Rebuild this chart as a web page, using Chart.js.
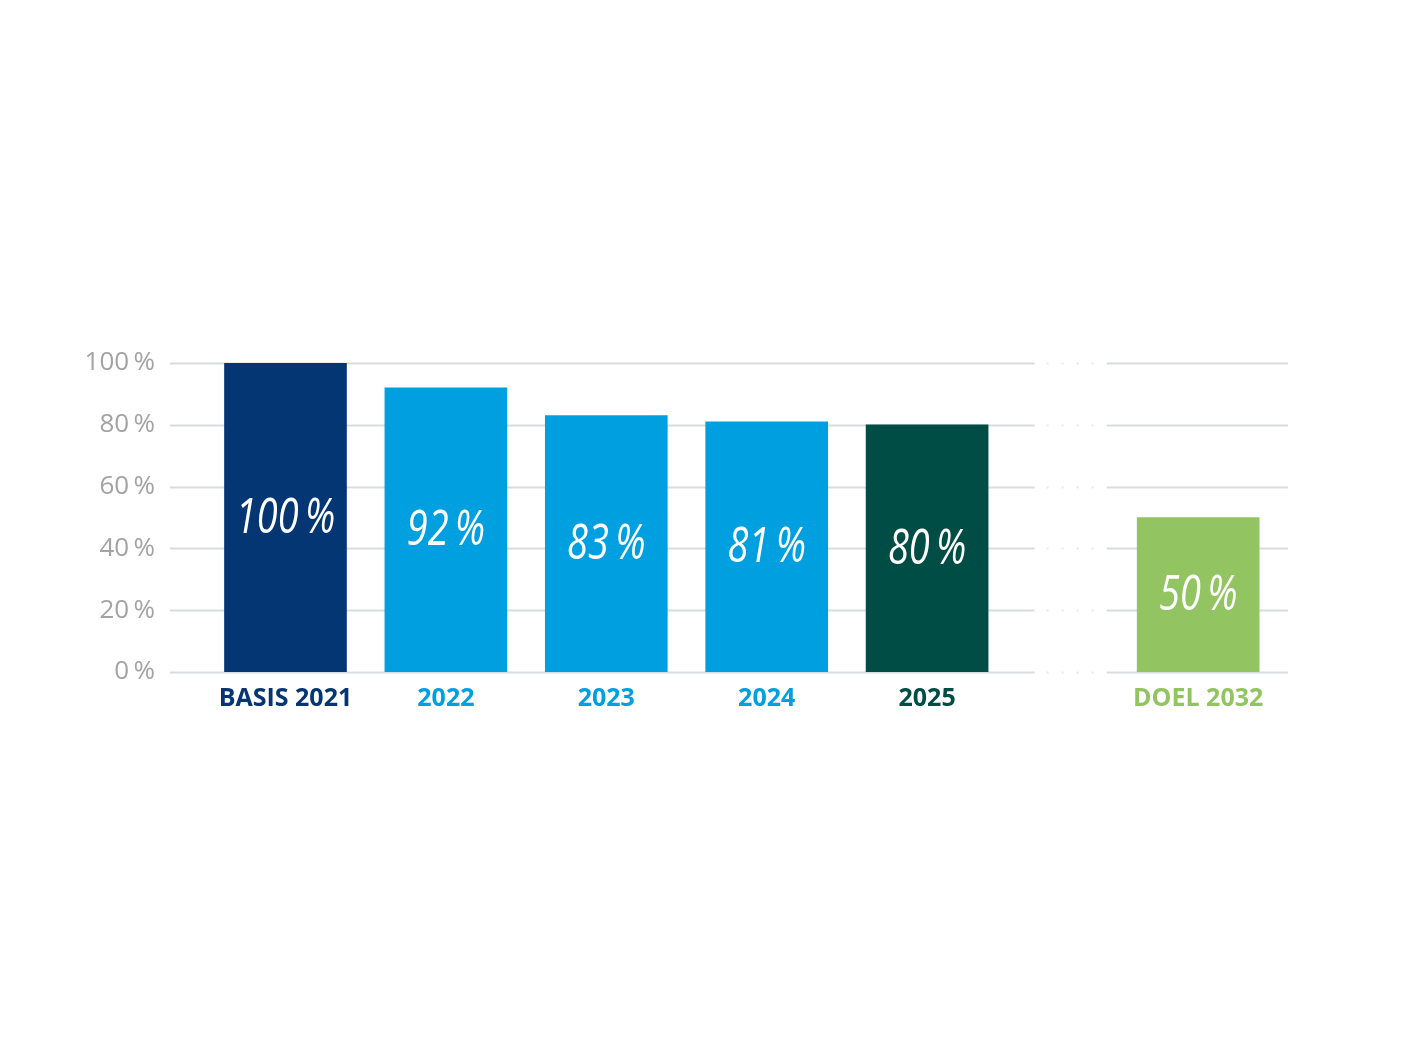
<!DOCTYPE html>
<html>
<head>
<meta charset="utf-8">
<script src="https://cdn.jsdelivr.net/npm/chart.js@4.4.1/dist/chart.umd.min.js"></script>
<style>
    html, body { margin: 0; padding: 0; background: #fff; }
    #wrap { width: 1416px; height: 1062px; }
</style>
</head>
<body>
<div id="wrap"><canvas id="reductieChart" width="1416" height="1062"></canvas></div>
<script>
// Gegevens van de grafiek
const categorieen = ['BASIS 2021', '2022', '2023', '2024', '2025', 'DOEL 2032'];
const waarden = [100, 92, 83, 81, 80, 50];
const kleuren = ['#053674', '#009fe0', '#009fe0', '#009fe0', '#004d45', '#92c462'];
const yTicks = [0, 20, 40, 60, 80, 100];

// Het doel staat iets verder weg (onderbroken as)
const doelSprong = 0.69;
const posities = categorieen.map((c, i) => i === categorieen.length - 1 ? i + doelSprong : i);

// Rasterlijnen met een stippel-onderbreking tussen 2025 en het doel
const rasterPlugin = {
    id: 'raster',
    beforeDatasetsDraw(chart) {
        const { ctx, chartArea, scales } = chart;
        const x = scales.x, y = scales.y;
        const gapStart = x.getPixelForValue(4.67);
        const gapEnd = x.getPixelForValue(5.12);
        ctx.save();
        yTicks.forEach(t => {
            const py = Math.round(y.getPixelForValue(t)) + 0.5;
            ctx.lineWidth = 2;
            ctx.strokeStyle = '#d9dcdf';
            ctx.setLineDash([]);
            ctx.beginPath();
            ctx.moveTo(chartArea.left, py);
            ctx.lineTo(gapStart, py);
            ctx.moveTo(gapEnd, py);
            ctx.lineTo(chartArea.right, py);
            ctx.stroke();
            ctx.strokeStyle = '#e6e8ea';
            ctx.setLineDash([2, 13]);
            ctx.beginPath();
            ctx.moveTo(gapStart + 12, py);
            ctx.lineTo(gapEnd - 6, py);
            ctx.stroke();
        });
        ctx.restore();
    }
};

// Percentages in het midden van elke staaf
const labelPlugin = {
    id: 'waardeLabels',
    afterDatasetsDraw(chart) {
        const { ctx } = chart;
        const meta = chart.getDatasetMeta(0);
        ctx.save();
        ctx.fillStyle = '#ffffff';
        ctx.font = 'italic 400 50px "Open Sans"';
        ctx.textAlign = 'center';
        ctx.textBaseline = 'middle';
        meta.data.forEach((bar, i) => {
            const midden = (bar.y + bar.base) / 2;
            ctx.save();
            ctx.translate(bar.x, midden + 1);
            ctx.scale(0.76, 1);
            ctx.fillText(waarden[i] + '\u2009%', 0, 0);
            ctx.restore();
        });
        ctx.restore();
    }
};

const ctx = document.getElementById('reductieChart').getContext('2d');
const reductieChart = new Chart(ctx, {
    type: 'bar',
    data: {
        datasets: [{
            data: waarden.map((v, i) => ({ x: posities[i], y: v })),
            backgroundColor: kleuren,
            barThickness: 122,
            borderWidth: 0,
        }]
    },
    options: {
        responsive: false,
        animation: false,
        layout: { padding: { left: 70, right: 128, top: 363, bottom: 330 } },
        plugins: {
            legend: { display: false },
            tooltip: { enabled: false },
        },
        scales: {
            x: {
                type: 'linear',
                min: -0.72,
                max: 6.25,
                offset: false,
                afterFit: (scale) => { scale.height = 60; },
                afterBuildTicks: (scale) => { scale.ticks = posities.map(p => ({ value: p })); },
                grid: { display: false, drawTicks: false, offset: false },
                border: { display: false },
                ticks: {
                    padding: 12,
                    autoSkip: false,
                    maxRotation: 0,
                    font: { family: '"Open Sans"', size: 25, weight: 'bold' },
                    color: (c) => kleuren[c.index],
                    callback: (value, index) => categorieen[index],
                }
            },
            y: {
                min: 0,
                max: 100,
                afterFit: (scale) => { scale.width = 100; },
                afterBuildTicks: (scale) => { scale.ticks = yTicks.map(v => ({ value: v })); },
                grid: { display: false, drawTicks: false },
                border: { display: false },
                ticks: {
                    padding: 15,
                    font: { family: '"Open Sans"', size: 26 },
                    color: '#a3a3a3',
                    callback: (value) => value + '\u2009%',
                }
            }
        }
    },
    plugins: [rasterPlugin, labelPlugin]
});
</script>
</body>
</html>
